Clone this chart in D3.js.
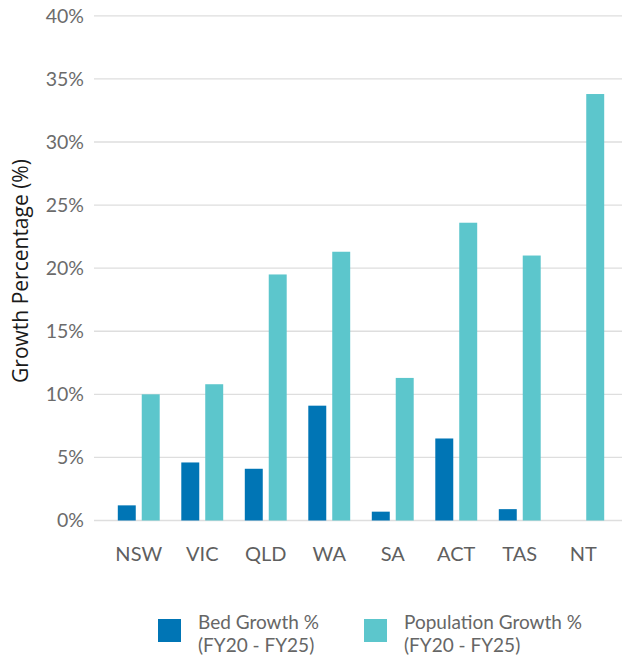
<!DOCTYPE html>
<html>
<head>
<meta charset="utf-8">
<script src="https://cdn.jsdelivr.net/npm/d3@7"></script>
<style>
  html, body { margin: 0; padding: 0; background: #fff; }
  svg { display: block; font-family: Lato, "Noto Sans", sans-serif; }
</style>
</head>
<body>
<svg id="chart" width="622" height="656"></svg>
<script>
const categories = ["NSW", "VIC", "QLD", "WA", "SA", "ACT", "TAS", "NT"];
const bedGrowth = [1.2, 4.6, 4.1, 9.1, 0.7, 6.5, 0.9, 0];
const populationGrowth = [10.0, 10.8, 19.5, 21.3, 11.3, 23.6, 21.0, 33.8];
const yTicks = [0, 5, 10, 15, 20, 25, 30, 35, 40];
const seriesNames = ["Bed Growth %\n(FY20 - FY25)", "Population Growth %\n(FY20 - FY25)"];
const seriesColors = ["#0075B5", "#5CC6CC"];
const yTitle = "Growth Percentage (%)";

const svg = d3.select("#chart");
const series = [bedGrowth, populationGrowth];

const y = d3.scaleLinear().domain([0, 40]).range([520.5, 15.8]);
const x0 = d3.scaleBand().domain(categories).range([107, 615]).paddingInner(0.34).paddingOuter(0.17);
const x1 = d3.scaleBand().domain([0, 1]).range([0, x0.bandwidth()]).paddingInner(0.25);

// gridlines
svg.append("g").selectAll("line").data(yTicks).join("line")
  .attr("x1", 94).attr("x2", 622)
  .attr("y1", d => y(d)).attr("y2", d => y(d))
  .attr("stroke", "#dedede").attr("stroke-width", 1.3);

// y axis labels
const yAxis = d3.axisLeft(y).tickValues(yTicks).tickFormat(d => d + "%").tickSize(0).tickPadding(0);
const gy = svg.append("g").attr("transform", "translate(84,0)").call(yAxis);
gy.select(".domain").remove();
gy.selectAll("text").attr("font-size", 19.5).attr("fill", "#6b6b6b")
  .attr("font-family", "Lato, 'Noto Sans', sans-serif");

// bars
const groups = svg.append("g").selectAll("g").data(categories).join("g")
  .attr("transform", d => `translate(${x0(d)},0)`);
groups.selectAll("rect").data((c, i) => series.map((s, k) => ({k, v: s[i]})).filter(d => d.v > 0)).join("rect")
  .attr("x", d => x1(d.k)).attr("width", x1.bandwidth())
  .attr("y", d => y(d.v)).attr("height", d => y(0) - y(d.v))
  .attr("fill", d => seriesColors[d.k]);

// x axis labels
const xAxis = d3.axisBottom(x0).tickSize(0).tickPadding(0);
const gx = svg.append("g").attr("transform", "translate(0,0)").call(xAxis);
gx.select(".domain").remove();
gx.selectAll("text").attr("y", 561).attr("dy", 0).attr("font-size", 20).attr("fill", "#5f5f5f")
  .attr("font-family", "Lato, 'Noto Sans', sans-serif");

// y title
svg.append("text")
  .attr("transform", "translate(28,271) rotate(-90)")
  .attr("text-anchor", "middle")
  .attr("font-family", "'Open Sans', 'Noto Sans', sans-serif")
  .attr("font-size", 21).attr("fill", "#1a1a1a")
  .text(yTitle);

// legend
const legendX = [158, 364];
const lg = svg.append("g").selectAll("g").data(seriesNames).join("g")
  .attr("transform", (d, i) => `translate(${legendX[i]},619)`);
lg.append("rect").attr("width", 23).attr("height", 23).attr("fill", (d, i) => seriesColors[i]);
lg.append("text").attr("x", 40).attr("y", 10).attr("font-size", 19).attr("fill", "#666")
  .selectAll("tspan").data(d => d.split("\n")).join("tspan")
  .attr("x", 40).attr("dy", (d, i) => i === 0 ? 0 : 22.5).text(d => d);
</script>
</body>
</html>
